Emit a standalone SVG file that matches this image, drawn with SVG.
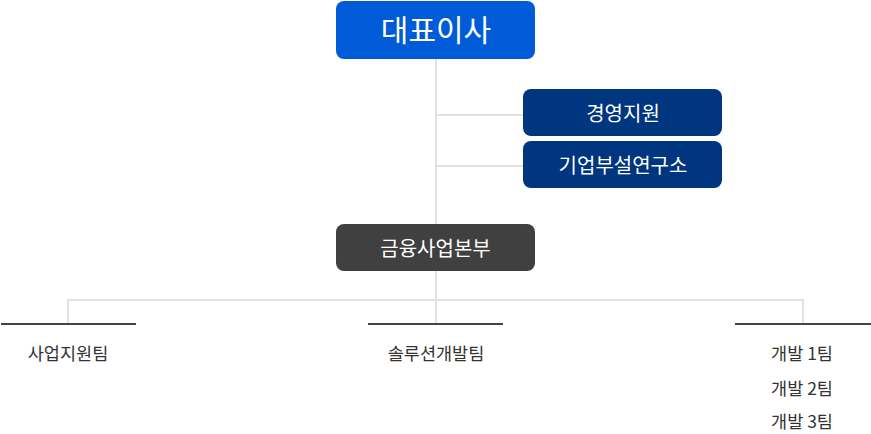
<svg xmlns="http://www.w3.org/2000/svg" width="871" height="434" viewBox="0 0 871 434">
<style>
.t{font-family:"Noto Sans CJK KR","Noto Sans",sans-serif;text-anchor:middle}
.w{fill:#ffffff}
.bx{font-size:20px}
.lbl{fill:#333333;font-size:17.5px}
.lg{stroke:#e1e1e1;stroke-width:2;fill:none}
.dk{stroke:#444444;stroke-width:2;fill:none}
</style>
<rect width="871" height="434" fill="#ffffff"/>
<g id="connectors">
<path class="lg" d="M436 59V324M436 115H523M436 166H523M68 324V300H803V324"/>
<path class="dk" d="M1 324H136M368 324H503M735 324H871"/>
</g>
<g id="ceo">
<rect x="336" y="1" width="199" height="58" rx="8" fill="#005bd8"/>
<text class="t w" x="436" y="41" font-size="30">대표이사</text>
</g>
<g id="mgmt">
<rect x="523" y="89" width="199" height="47" rx="8" fill="#00357f"/>
<text class="t w bx" x="623" y="121">경영지원</text>
</g>
<g id="lab">
<rect x="523" y="141" width="199" height="47" rx="8" fill="#00357f"/>
<text class="t w bx" x="623" y="173">기업부설연구소</text>
</g>
<g id="finance">
<rect x="336" y="224" width="199" height="47" rx="8" fill="#404040"/>
<text class="t w bx" x="435.5" y="256">금융사업본부</text>
</g>
<g id="bizsupport">
<text class="t lbl" x="68" y="360">사업지원팀</text>
</g>
<g id="solution">
<text class="t lbl" x="436" y="360">솔루션개발팀</text>
</g>
<g id="dev">
<text class="t lbl" x="802" y="360">개발 1팀</text>
<text class="t lbl" x="802" y="394.5">개발 2팀</text>
<text class="t lbl" x="802" y="428">개발 3팀</text>
</g>
</svg>
